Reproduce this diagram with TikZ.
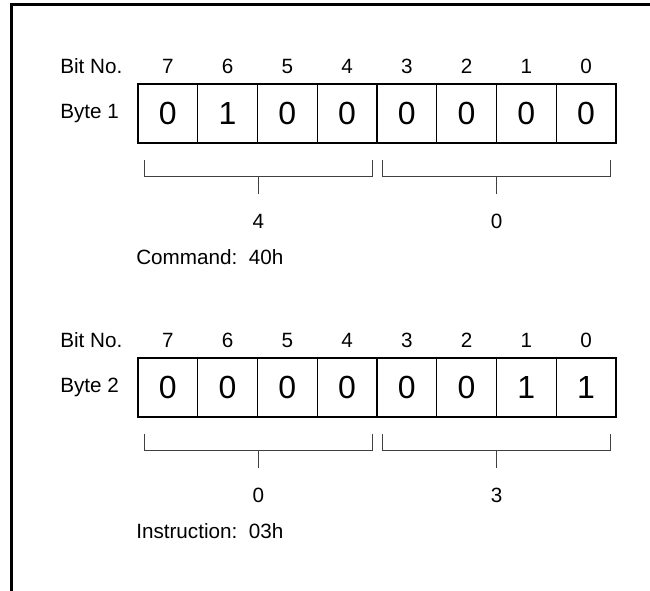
\documentclass[tikz,border=0pt]{standalone}
\usepackage{fontspec}
\setmainfont{Liberation Sans}
\usetikzlibrary{positioning}
\tikzset{
  cell/.style={
    draw,
    line width = 0.8pt,
    minimum width = 44.81pt,
    minimum height = 44.25pt,
    inner sep = 0pt,
    font = \fontsize{24}{24}\selectfont
  },
  lbl/.style={
    font = \fontsize{15.5}{16}\selectfont,
    inner sep = 0pt
  },
  nibble/.style={
    line width = 0.75pt,
    draw = black!75
  },
  frame/.style={
    line width = 1.6pt
  },
}
\begin{document}
\begin{tikzpicture}[x=0.75pt,y=-0.75pt]
    \useasboundingbox (0,0) rectangle (650,591);
    \def\xa{138}
    \def\dx{59.75}
    \def\ybit{66}
    \def\ycell{113.5}
    \def\ybr{160}
    \def\ydy{17}
    \draw[frame] (11.5,591) -- (11.5,4.5) -- (650,4.5);
    \foreach \byte/\yy/\bits/\hi/\lo/\txt in {1/0/{0,1,0,0,0,0,0,0}/4/0/{Command:~\ 40h},
                                            2/274/{0,0,0,0,0,0,1,1}/0/3/{Instruction:~\ 03h}}{
    \node[lbl,anchor=west] (bitno\byte) at (60,\ybit+\yy) {Bit No.};
    \node[lbl,anchor=west] (byte\byte) at (60,\ycell+\yy) {Byte \byte};
    \foreach \v [count=\i from 0] in \bits {
    \pgfmathtruncatemacro\nr{7-\i}
    \node[lbl] (n\byte\i) at ({\xa+(\i+0.5)*\dx},\ybit+\yy) {\nr};
    \node[cell] (c\byte\i) at ({\xa+(\i+0.5)*\dx},\ycell+\yy) {\v};}
    % nibble brackets
    \coordinate (hl\byte) at (144,\ybr+\yy);
    \coordinate (hr\byte) at (372.7,\ybr+\yy);
    \coordinate (ll\byte) at (382.7,\ybr+\yy);
    \coordinate (lr\byte) at (610.7,\ybr+\yy);
    \draw[nibble] (hl\byte) --++ (0,\ydy) -| (hr\byte);
    \draw[nibble] (ll\byte) --++ (0,\ydy) -| (lr\byte);
    \node[lbl] (hv\byte) at (258.4,221+\yy) {\hi};
    \node[lbl] (lv\byte) at (496.7,221+\yy) {\lo};
    \draw[nibble] (hv\byte |- 0,\ybr+\ydy+\yy) -- ++(0,\ydy);
    \draw[nibble] (lv\byte |- 0,\ybr+\ydy+\yy) -- ++(0,\ydy);
    \node[lbl,anchor=west] (cmd\byte) at (136,257+\yy) {\txt};}
\end{tikzpicture}
\end{document}
